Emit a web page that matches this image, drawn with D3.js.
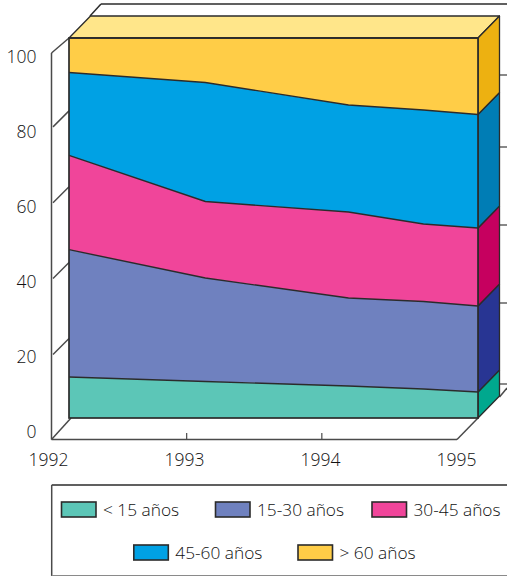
<!DOCTYPE html>
<html><head><meta charset="utf-8">
<script src="https://cdn.jsdelivr.net/npm/d3@7/dist/d3.min.js"></script>
<style>html,body{margin:0;padding:0;background:#fff;overflow:hidden}svg{display:block}text{font-family:"Open Sans",sans-serif;font-weight:300;fill:#111}</style>
</head><body><svg id="c" width="507" height="576"></svg>
<script>
const samples = [1992, 1993, 1994.05, 1994.6, 1995];
const tickYears = [1992, 1993, 1994, 1995];
const tickValues = [0, 20, 40, 60, 80, 100];
const backTicks = [20, 40, 60, 80, 100];
const groups = ["< 15 años", "15-30 años", "30-45 años", "45-60 años", "> 60 años"];
const under15 = [10.8, 9.6, 8.42, 7.63, 6.84];
const from15to30 = [33.5, 27.24, 23.16, 23.03, 22.63];
const from30to45 = [24.79, 20.13, 22.63, 20.39, 20.53];
const from45to60 = [21.84, 31.32, 28.16, 30, 29.87];
const over60 = [9.08, 11.71, 17.63, 18.95, 20.13];
const seriesValues = [under15, from15to30, from30to45, from45to60, over60];
const frontColors = ["#5CC6B7", "#6F81BF", "#F0459A", "#00A1E4", "#FFCD47"];
const sideColors = ["#00A88E", "#283593", "#C6005F", "#007DB5", "#EDB111"];
const topColor = "#FFE68A";
const ink = "#2b2b2b", axisInk = "#4a4a4a";

const svg = d3.select("#c");
const x = d3.scaleLinear().domain([1992, 1995]).range([69, 478]);
const y = d3.scaleLinear().domain([0, 100]).range([418, 38]);
const dx = 21.5, dy = -22;

const rows = samples.map((s, i) => {
  const r = {year: s};
  groups.forEach((g, k) => r[g] = seriesValues[k][i]);
  return r;
});
const stacked = d3.stack().keys(groups)(rows);
const area = d3.area().x(d => x(d.data.year)).y0(d => y(d[0])).y1(d => y(d[1]));
const line = d3.line().x(d => x(d.data.year)).y(d => y(d[1]));

const L = (x1, y1, x2, y2, w = 1.5, c = axisInk) => svg.append("line")
  .attr("x1", x1).attr("y1", y1).attr("x2", x2).attr("y2", y2)
  .attr("stroke", c).attr("stroke-width", w);

// walls and floor
const floorX = d3.scaleLinear().domain([1992, 1995]).range([51.5, 457]);
const wallY = d3.scaleLinear().domain([0, 100]).range([430.3, 51]);
const backY = d3.scaleLinear().domain(backTicks).range([384, 303, 225, 147, 75]);

L(51.5, 53, 51.5, 439.5);
L(51.5, 439.5, 457, 439.5);
L(51.5, 439.5, 71, 418);
L(457, 439.5, 478, 418);
L(499.5, 397, 507, 388);
L(51.5, 53, 69, 38);
tickValues.filter(v => v > 0 && v < 100).forEach(v => L(53, wallY(v), 69, wallY(v) - 16));
tickYears.slice(1, 3).forEach(t => L(floorX(t), 433, floorX(t), 439.5, 1.2));
backTicks.forEach(v => L(499.5, backY(v), 507, backY(v), 1.3));
L(90, 16, 101, 4, 1.5, ink);
L(101, 4, 507, 4, 1.7, ink);

// top face
const topFace = [[x(1992), y(100)], [x(1992) + dx, y(100) + dy], [x(1995) + dx, y(100) + dy], [x(1995), y(100)]];
svg.append("polygon").attr("points", topFace.join(" ")).attr("fill", topColor)
  .attr("stroke", ink).attr("stroke-width", 1.3).attr("stroke-linejoin", "round");

// side faces
stacked.forEach((s, k) => {
  const last = s[s.length - 1], xe = x(1995);
  const pts = [[xe, y(last[0])], [xe + dx, y(last[0]) + dy], [xe + dx, y(last[1]) + dy], [xe, y(last[1])]];
  svg.append("polygon").attr("points", pts.join(" ")).attr("fill", sideColors[k])
    .attr("stroke", ink).attr("stroke-width", 1.3).attr("stroke-linejoin", "round");
});

// front faces
svg.append("g").selectAll("path").data(stacked).join("path")
  .attr("d", area).attr("fill", (d, i) => frontColors[i]);
svg.append("g").selectAll("path").data(stacked).join("path")
  .attr("d", line).attr("fill", "none").attr("stroke", ink).attr("stroke-width", 1.4);
svg.append("rect").attr("x", x(1992)).attr("y", y(100))
  .attr("width", x(1995) - x(1992)).attr("height", y(0) - y(100))
  .attr("fill", "none").attr("stroke", ink).attr("stroke-width", 1.7);

// axis labels through d3 axes
const labelY = d3.scaleLinear().domain([0, 100]).range([431, 56]);
const yAxis = d3.axisLeft(labelY).tickValues(tickValues).tickSize(0).tickPadding(0);
const ga = svg.append("g").attr("transform", "translate(36.5,0)").call(yAxis);
ga.select(".domain").remove();
ga.selectAll("text").attr("font-size", 17.5).attr("font-family", null).attr("fill", null).attr("dy", "0.36em");

const labelX = d3.scaleLinear().domain([1992, 1995]).range([48, 456]);
const xAxis = d3.axisBottom(labelX).tickValues(tickYears).tickFormat(d3.format("d")).tickSize(0).tickPadding(0);
const gx = svg.append("g").attr("transform", "translate(0,459.5)").call(xAxis);
gx.select(".domain").remove();
gx.selectAll("text").attr("font-size", 17.5).attr("font-family", null).attr("fill", null).attr("dy", "0.36em");

// legend
L(51.7, 485, 507, 485, 1.7, ink);
L(51.7, 485, 51.7, 576, 1.5, axisInk);
L(51.7, 575.5, 507, 575.5, 1, "#8a8a8a");
const slotX = [61.5, 215.5, 372, 133.8, 298];
const slotY = [502, 502, 502, 545, 545];
groups.forEach((g, i) => {
  svg.append("rect").attr("x", slotX[i]).attr("y", slotY[i]).attr("width", 34.5).attr("height", 15)
    .attr("fill", frontColors[i]).attr("stroke", ink).attr("stroke-width", 1.6);
  svg.append("text").attr("x", slotX[i] + 41.5).attr("y", slotY[i] + 14)
    .attr("font-size", 17.3).text(g);
});
</script></body></html>
